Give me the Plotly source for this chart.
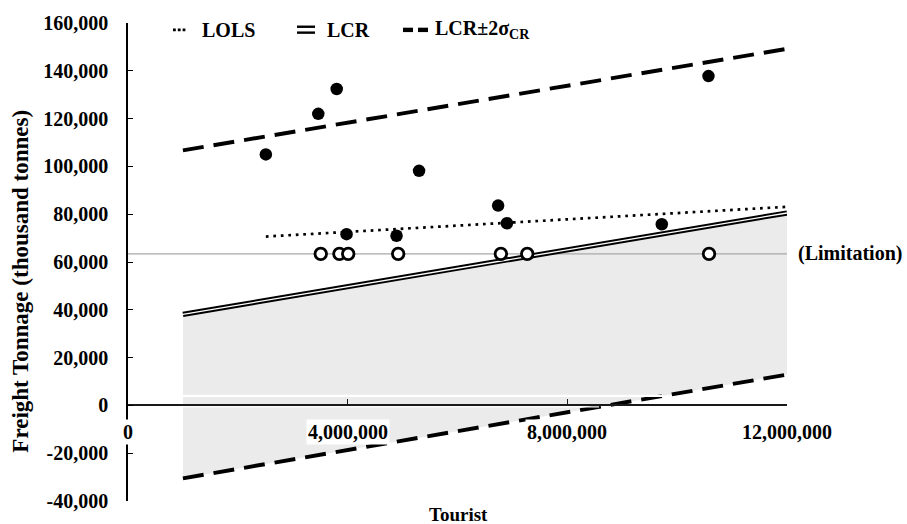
import numpy as np
import plotly.graph_objects as go

# Observed freight tonnage (thousand tonnes) against tourist arrivals
tourists = [2510000, 3465000, 3800000, 3980000, 4890000, 5300000, 6740000, 6900000, 9720000, 10570000]
freight = [105000, 122000, 132400, 71650, 71000, 98150, 83600, 76200, 75800, 137800]

# Observations held at the capacity limitation
tourists_capped = [3510000, 3850000, 4010000, 4920000, 6790000, 7270000, 10580000]
limitation = 63400

# Fitted lines, given by their end points
lols_x = [2510000, 12000000]
lols_y = [70650, 83100]
lcr_x = [1000000, 12000000]
lcr_y = [38100, 80500]
band_upper = [106700, 149200]
band_lower = [-30500, 12900]

x_tick_vals = [0, 4000000, 8000000, 12000000]
x_tick_text = ["0", "4,000,000", "8,000,000", "12,000,000"]
y_tick_vals = list(range(-40000, 160001, 20000))
y_tick_text = ["-40,000", "-20,000", "0", "20,000", "40,000", "60,000",
               "80,000", "100,000", "120,000", "140,000", "160,000"]

FONT = "Liberation Serif"
W, H = 907, 524
ML, MR, MT, MB = 128, 120, 17, 21
PW, PH = W - ML - MR, H - MT - MB


def px_x(px):
    return (px - ML) / PW


def px_y(py):
    return (H - MB - py) / PH


def txt(size):
    return dict(family=FONT, size=size, color="black", weight="bold")


fig = go.Figure()

# shaded region between the lower band and LCR
fig.add_trace(go.Scatter(x=lcr_x, y=band_lower, mode="lines", line=dict(width=0),
                         showlegend=False, hoverinfo="skip"))
fig.add_trace(go.Scatter(x=lcr_x, y=lcr_y, mode="lines", line=dict(width=0),
                         fill="tonexty", fillcolor="#ebebeb", showlegend=False, hoverinfo="skip"))

# capacity limitation
fig.add_trace(go.Scatter(x=[0, x_tick_vals[-1]], y=[limitation, limitation], mode="lines",
                         line=dict(color="#a8a8a8", width=1.3), showlegend=False))

# LCR ± 2 sigma
dash_style = dict(color="black", width=3.9, dash="21px,10px")
fig.add_trace(go.Scatter(x=lcr_x, y=band_upper, mode="lines", line=dash_style, showlegend=False))
fig.add_trace(go.Scatter(x=lcr_x, y=band_lower, mode="lines", line=dash_style, showlegend=False))

# LCR as a double line
fig.add_trace(go.Scatter(x=lcr_x, y=lcr_y, mode="lines",
                         line=dict(color="black", width=5.2), showlegend=False))
fig.add_trace(go.Scatter(x=lcr_x, y=lcr_y, mode="lines",
                         line=dict(color="white", width=1.3), showlegend=False))

# LOLS
fig.add_trace(go.Scatter(x=lols_x, y=lols_y, mode="lines",
                         line=dict(color="black", width=2.7, dash="2.7px,4.8px"), showlegend=False))

# observations
fig.add_trace(go.Scatter(x=tourists_capped, y=[limitation] * len(tourists_capped), mode="markers",
                         marker=dict(symbol="circle", size=11.5, color="white",
                                     line=dict(color="black", width=2.8)), showlegend=False))
fig.add_trace(go.Scatter(x=tourists, y=freight, mode="markers",
                         marker=dict(symbol="circle", size=12.5, color="black"), showlegend=False))

shapes = []
# thin white seams in the shading around the horizontal axis
for y_seam, w in [(4000, 2.2), (-600, 1.4)]:
    x_end = float(np.interp(y_seam, band_lower, lcr_x))
    shapes.append(dict(type="line", xref="x", yref="y", x0=lcr_x[0], x1=x_end,
                       y0=y_seam, y1=y_seam, line=dict(color="white", width=w)))

# legend key symbols
shapes.append(dict(type="line", xref="paper", yref="paper", x0=px_x(173), x1=px_x(185.5),
                   y0=px_y(24), y1=px_y(24), line=dict(color="black", width=2.8, dash="2.8px,2px")))
for yy in (20.8, 26.8):
    shapes.append(dict(type="line", xref="paper", yref="paper", x0=px_x(297), x1=px_x(315),
                       y0=px_y(yy), y1=px_y(yy), line=dict(color="black", width=2.4)))
for a, b in ((403, 413), (418, 428)):
    shapes.append(dict(type="line", xref="paper", yref="paper", x0=px_x(a), x1=px_x(b),
                       y0=px_y(24), y1=px_y(24), line=dict(color="black", width=4.4)))

annotations = []
# x tick labels on white boxes
for v, t in zip(x_tick_vals, x_tick_text):
    annotations.append(dict(x=v, y=0, xref="x", yref="y", text=t, showarrow=False,
                            xanchor="center", yanchor="middle", yshift=-27,
                            bgcolor="white", font=txt(20)))
# legend texts
for px, t in ((200, "LOLS"), (325, "LCR"), (433, "LCR±2σ<sub>CR</sub>")):
    annotations.append(dict(x=px_x(px), y=px_y(24), xref="paper", yref="paper", text=t,
                            showarrow=False, xanchor="left", yanchor="middle", font=txt(20)))
annotations.append(dict(x=x_tick_vals[-1], y=limitation, xref="x", yref="y", text="(Limitation)",
                        showarrow=False, xanchor="left", yanchor="middle", xshift=9, font=txt(20)))
annotations.append(dict(x=px_x(458), y=px_y(517), xref="paper", yref="paper", text="Tourist",
                        showarrow=False, xanchor="center", yanchor="middle", font=txt(19)))
annotations.append(dict(x=px_x(21), y=px_y(280), xref="paper", yref="paper",
                        text="Freight Tonnage (thousand tonnes)", textangle=-90,
                        showarrow=False, xanchor="center", yanchor="middle", font=txt(23)))

fig.update_layout(
    width=W, height=H,
    margin=dict(l=ML, r=MR, t=MT, b=MB, pad=0),
    paper_bgcolor="white", plot_bgcolor="white",
    shapes=shapes, annotations=annotations,
    xaxis=dict(range=[0, 12000000], anchor="free", position=0.2,
               showgrid=False, zeroline=False, showline=True, linecolor="#1a1a1a", linewidth=1.6,
               tickvals=x_tick_vals, ticks="inside", ticklen=6, tickwidth=1.3, tickcolor="#1a1a1a",
               showticklabels=False),
    yaxis=dict(range=[-40000, 160000], showgrid=False, zeroline=False,
               showline=True, linecolor="black", linewidth=1.6,
               tickvals=y_tick_vals, ticktext=y_tick_text, ticks="inside", ticklen=5,
               tickwidth=1.3, tickcolor="black", ticklabelstandoff=14, tickfont=txt(20)),
)

fig.write_html("out.html")
